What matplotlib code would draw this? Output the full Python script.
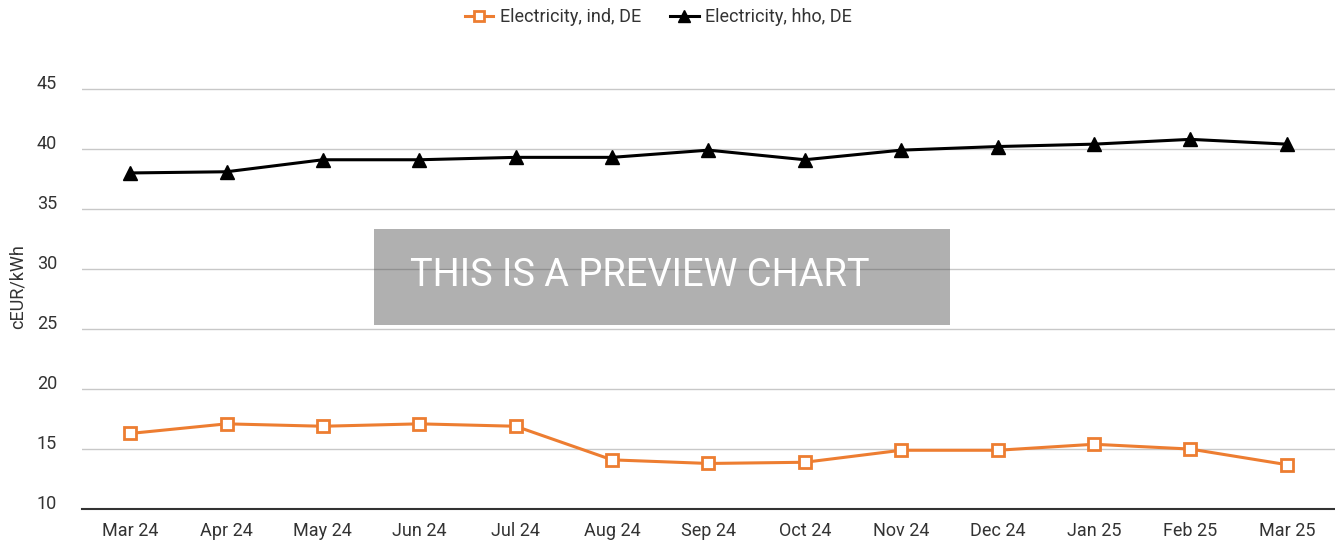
import matplotlib
matplotlib.use("Agg")
import matplotlib.pyplot as plt
from matplotlib.patches import Rectangle

plt.rcParams["font.family"] = ["Roboto", "DejaVu Sans"]

months = ["Mar 24", "Apr 24", "May 24", "Jun 24", "Jul 24", "Aug 24", "Sep 24",
          "Oct 24", "Nov 24", "Dec 24", "Jan 25", "Feb 25", "Mar 25"]
elec_ind = [16.3, 17.1, 16.9, 17.1, 16.9, 14.1, 13.8, 13.9, 14.9, 14.9, 15.4, 15.0, 13.7]
elec_hho = [38.0, 38.1, 39.1, 39.1, 39.3, 39.3, 39.9, 39.1, 39.9, 40.2, 40.4, 40.8, 40.4]
yticks = [10, 15, 20, 25, 30, 35, 40, 45]

txt = "#333333"
fig = plt.figure(figsize=(13.35, 5.41), dpi=100)
ax = fig.add_axes([0.0614, 0.059, 0.9386, 0.821])

x = list(range(len(months)))
ax.plot(x, elec_ind, color="#ED7D31", lw=2.2, marker="s", ms=8,
        mfc="white", mec="#ED7D31", mew=2, label="Electricity, ind, DE", zorder=3)
ax.plot(x, elec_hho, color="black", lw=2.2, marker="^", ms=10,
        mfc="black", mec="black", label="Electricity, hho, DE", zorder=3)

ax.set_xlim(-0.5, len(months) - 0.5)
ax.set_ylim(10, 47)
ax.set_xticks(x)
ax.set_xticklabels(months, fontsize=13, color=txt)
ax.set_yticks(yticks)
ax.set_yticklabels([str(v) for v in yticks], fontsize=13, color=txt, va="baseline")
ax.tick_params(length=0, axis="x", pad=9)
ax.tick_params(length=0, axis="y", pad=18)
ax.grid(axis="y", color="#c8c8c8", lw=1)
ax.set_axisbelow(True)
for s in ["top", "right", "left"]:
    ax.spines[s].set_visible(False)
ax.spines["bottom"].set_color("#333333")
ax.spines["bottom"].set_linewidth(1.5)
ax.set_ylabel("cEUR/kWh", fontsize=13, color=txt)
ax.yaxis.set_label_coords(-0.044, 0.5)

fig.legend(loc="center", bbox_to_anchor=(0.493, 1 - 17 / 541), ncol=2, frameon=False,
           fontsize=13, handlelength=1.6, handletextpad=0.35, columnspacing=1.6,
           labelcolor=txt, markerscale=0.85)

# preview watermark
fig.patches.append(Rectangle((374 / 1335, 1 - 325 / 541), 576 / 1335, 96 / 541,
                             transform=fig.transFigure, color="#505050", alpha=0.45,
                             lw=0, zorder=5))
fig.text(410 / 1335, 1 - 276 / 541, "THIS IS A PREVIEW CHART", color="white",
         fontsize=27.4, va="center", ha="left", zorder=6)

fig.savefig("out.png", dpi=100)
